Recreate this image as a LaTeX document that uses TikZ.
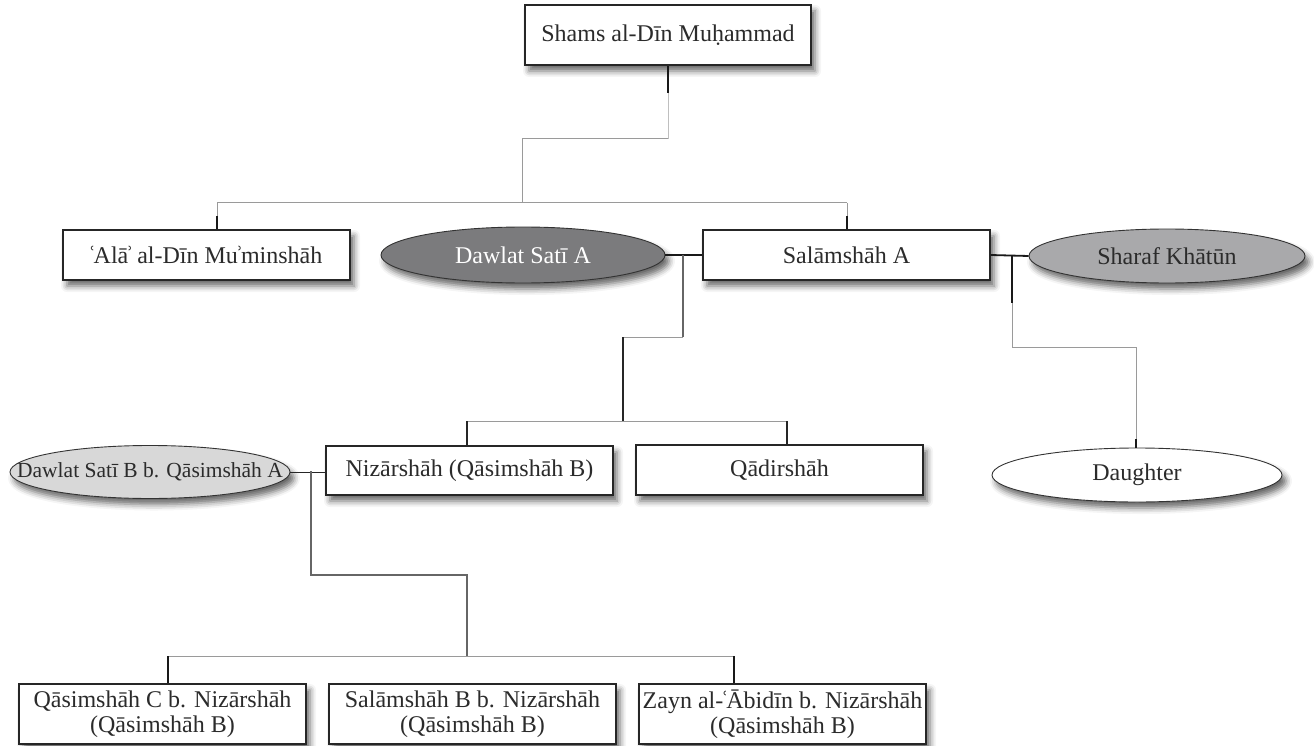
\documentclass[tikz,border=0pt]{standalone}
\usepackage{fontspec}
\setmainfont{Liberation Serif}
\usetikzlibrary{shapes.geometric,shadows.blur}
\newcommand\myayn{\kern-2.5ptʿ\kern-2.5pt}
\newcommand\myhamza{\kern-2.5ptʾ\kern-2.5pt}
\definecolor{txt}{HTML}{2B2B2B}
\definecolor{ellA}{HTML}{7B7B7D}
\definecolor{ellS}{HTML}{A9A9AB}
\definecolor{ellB}{HTML}{D8D8D8}
\definecolor{lgray}{HTML}{9A9A9A}
\definecolor{mgray}{HTML}{666666}
\tikzset{
  shad/.style={blur shadow={shadow xshift=4pt, shadow yshift=-6pt, shadow blur radius=6pt, shadow opacity=60}},
  box/.style={rectangle, draw=black!85, line width=1.2pt, fill=white, minimum width=287pt,
    minimum height=50pt, inner sep=0pt, text=txt, align=center,
    font=\fontsize{24}{25}\selectfont, shad},
  ell/.style={ellipse, draw=black!80, line width=0.9pt, inner sep=0pt, text=txt,
    font=\fontsize{24}{25}\selectfont, shad},
  gline/.style={draw=lgray, line width=1pt},
  mline/.style={draw=mgray, line width=1.1pt},
  dline/.style={draw=black!85, line width=1.2pt},
  bstub/.style={draw=black!90, line width=1.8pt},
}
\begin{document}
\begin{tikzpicture}[x=1pt,y=-1pt]
\useasboundingbox (0,0) rectangle (1314,746);
% nodes
\node[box, minimum width=286pt, minimum height=60pt] (shams) at (668,35) {Shams al-Dīn Muḥammad};
\node[box] (ala) at (206.5,255) {\myayn Alā\myhamza{} al-Dīn Mu\myhamza minshāh};
\node[ell, fill=ellA, text=white, minimum width=284pt, minimum height=56pt] (dawlatA) at (523,255) {\makebox[0pt]{Dawlat Satī A}};
\node[box] (salam) at (846.5,255) {Salāmshāh A};
\node[ell, fill=ellS, minimum width=276pt, minimum height=54pt] (sharaf) at (1167,256) {\makebox[0pt]{Sharaf Khātūn}};
\node[ell, fill=white, minimum width=290pt, minimum height=54pt] (daughter) at (1137,475) {\makebox[0pt]{Daughter}};
\node[ell, fill=ellB, minimum width=280pt, minimum height=53pt, font=\fontsize{21.5}{24}\selectfont] (dawlatB) at (150,472) {\makebox[0pt]{Dawlat Satī B b. Qāsimshāh A}};
\node[box, minimum height=49pt] (nizar) at (469.5,470.5) {Nizārshāh (Qāsimshāh B)};
\node[box] (qadir) at (779.5,470) {Qādirshāh};
\node[box, minimum height=60pt] (qc) at (162.5,714) {Qāsimshāh C b. Nizārshāh\\(Qāsimshāh B)};
\node[box, minimum height=60pt] (sb) at (472.5,714) {Salāmshāh B b. Nizārshāh\\(Qāsimshāh B)};
\node[box, minimum height=60pt] (zayn) at (782.5,714) {Zayn al-\myayn Ābidīn b. Nizārshāh\\(Qāsimshāh B)};
% coordinates
\coordinate (c1) at (668,139);
\coordinate (c2) at (522,139);
\coordinate (bar1) at (522,203);
\coordinate (a1) at (217,203);
\coordinate (s1) at (847,203);
\coordinate (m1) at (683,255);
\coordinate (m1b) at (683,337);
\coordinate (m1c) at (623,337);
\coordinate (k1) at (623,421);
\coordinate (n1) at (467,421);
\coordinate (q1) at (787,421);
\coordinate (m2) at (1012,256);
\coordinate (m2b) at (1012,347);
\coordinate (d1) at (1136,347);
\coordinate (m3) at (311,471);
\coordinate (m3b) at (311,575);
\coordinate (m3c) at (467,575);
\coordinate (k3) at (467,656);
\coordinate (b1) at (168,656);
\coordinate (b3) at (734,656);
% Shams -> children
\draw[gline, draw=black!25] (shams.south) -- (c1);
\draw[gline] (c1) -- (c2) -- (bar1);
\draw[gline] (a1) -- (s1);
\draw[gline] (a1) -- (a1 |- ala.north);
\draw[gline] (s1) -- (s1 |- salam.north);
\draw[bstub] (shams.south) -- ++(0,27);
\draw[bstub] (a1 |- ala.north) -- ++(0,-13);
\draw[bstub] (s1 |- salam.north) -- ++(0,-13);
% Dawlat A + Salamshah A
\draw[bstub] (dawlatA.east) -- (salam.west);
\draw[mline] (m1) -- (m1b);
\draw[gline] (m1b) -- (m1c);
\draw[dline] (m1c) -- (k1);
\draw[gline] (n1) -- (q1);
\draw[dline] (n1) -- (n1 |- nizar.north);
\draw[dline] (q1) -- (q1 |- qadir.north);
% Salamshah A + Sharaf
\draw[bstub] (salam.east) -- (sharaf.west);
\draw[gline] (m2) -- (m2b) -- (d1) -- (d1 |- daughter.north);
\draw[bstub] (m2) -- ++(0,47);
\draw[bstub] (d1 |- daughter.north) -- ++(0,-9);
% Dawlat B + Nizarshah
\draw[dline, line width=1pt] (dawlatB.east) -- (dawlatB.east -| nizar.west);
\draw[mline] (m3) -- (m3b) -- (m3c) -- (k3);
\draw[gline] (b1) -- (b3);
\draw[bstub] (b1) -- (b1 |- qc.north);
\draw[bstub] (b3) -- (b3 |- zayn.north);
\end{tikzpicture}
\end{document}
